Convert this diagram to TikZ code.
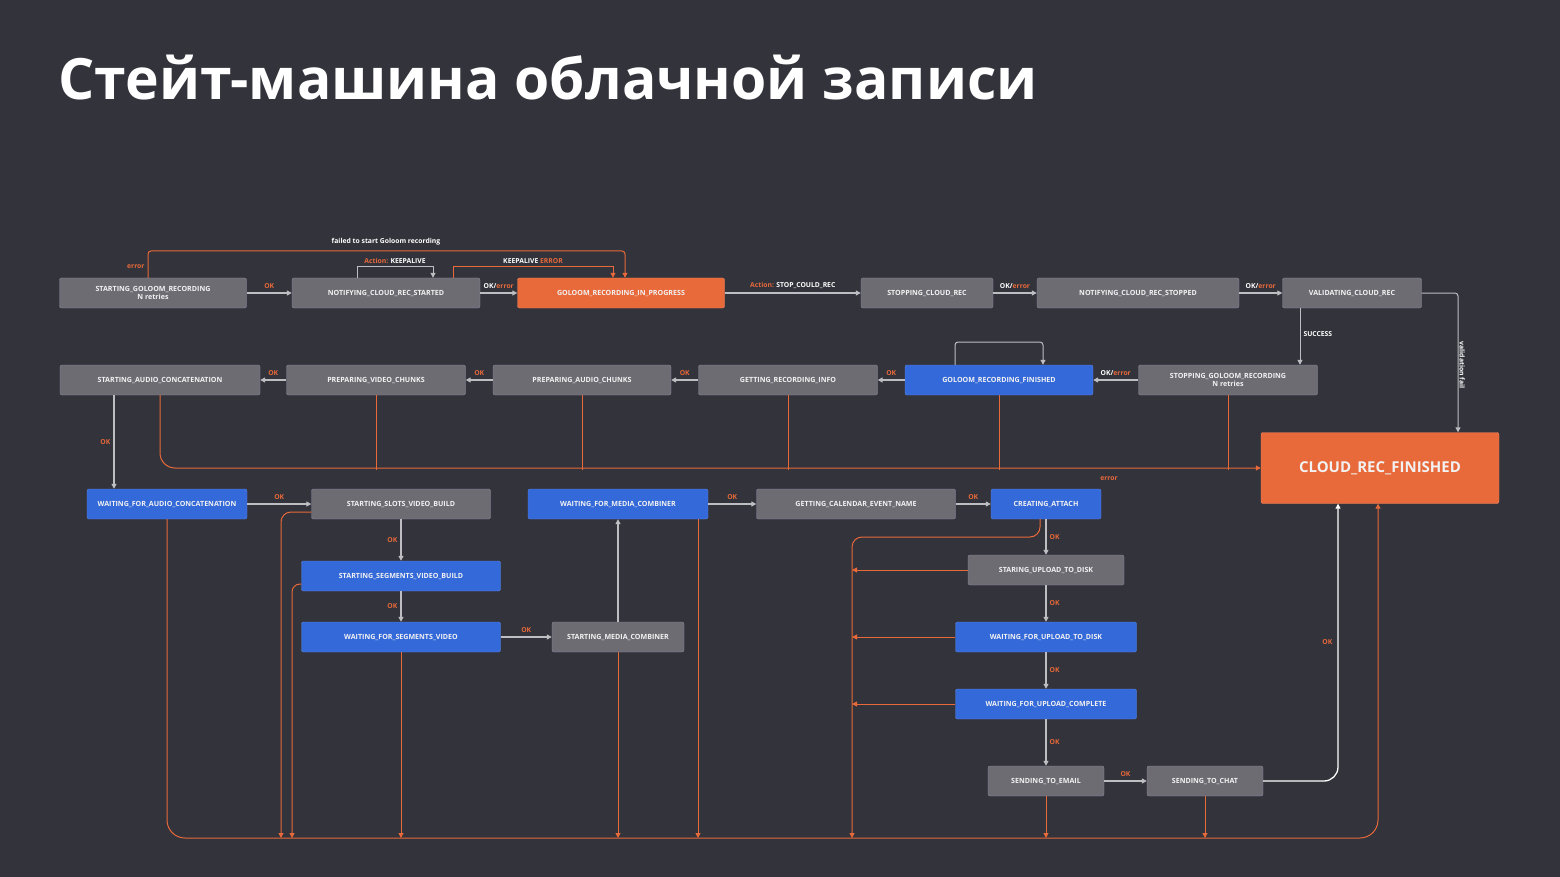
\documentclass[tikz,border=0pt]{standalone}
\usepackage{fontspec}
\setmainfont{Open Sans}
\usetikzlibrary{arrows.meta}
\usetikzlibrary{positioning}
\definecolor{bgc}{HTML}{33333B}
\definecolor{grayc}{HTML}{6E6C73}
\definecolor{grayb}{HTML}{8C89A3}
\definecolor{bluec}{HTML}{3469D9}
\definecolor{orc}{HTML}{E8693A}
\definecolor{linec}{HTML}{BDBDC2}
\newcommand{\er}[1]{\textcolor{orc}{#1}}
\begin{document}
\begin{tikzpicture}[x=1pt,y=-1pt,>={Triangle[length=5pt,width=5pt]},
  box/.style={draw=grayb,fill=grayc,rounded corners=2pt,minimum height=30pt,text=white!90!gray,
    font=\fontsize{7.1}{8.5}\selectfont\bfseries,align=center,inner sep=1pt},
  gbox/.style={box},
  bbox/.style={box,fill=bluec,draw=bluec!80!white},
  obox/.style={box,fill=orc,draw=orc!80!white},
  go/.style={draw=linec,line width=1.3pt,->},
  err/.style={draw=orc,line width=1pt,->},
  errl/.style={draw=orc,line width=0.8pt},
  lab/.style={font=\fontsize{6.8}{8}\selectfont\bfseries,text=white,inner sep=1pt},
  ok/.style={lab,text=orc}]
\fill[bgc] (0,0) rectangle (1560,877);
\node[anchor=west,text=white,font=\fontsize{57}{60}\selectfont\bfseries,inner sep=0pt] (title) at (58,78) {Стейт-машина облачной записи};

% first row
\node[gbox,minimum width=187pt] (sgr) at (153,293) {STARTING\_GOLOOM\_RECORDING\\N retries};
\node[gbox,minimum width=188pt] (ncrs) at (386,293) {NOTIFYING\_CLOUD\_REC\_STARTED};
\node[obox,minimum width=207pt] (grip) at (621,293) {GOLOOM\_RECORDING\_IN\_PROGRESS};
\node[gbox,minimum width=132pt] (scr) at (927,293) {STOPPING\_CLOUD\_REC};
\node[gbox,minimum width=202pt] (ncrstop) at (1138,293) {NOTIFYING\_CLOUD\_REC\_STOPPED};
\node[gbox,minimum width=139pt] (vcr) at (1352,293) {VALIDATING\_CLOUD\_REC};

% second row
\node[gbox,minimum width=200pt] (sac) at (160,380) {STARTING\_AUDIO\_CONCATENATION};
\node[gbox,minimum width=179pt] (pvc) at (376,380) {PREPARING\_VIDEO\_CHUNKS};
\node[gbox,minimum width=178pt] (pac) at (582,380) {PREPARING\_AUDIO\_CHUNKS};
\node[gbox,minimum width=179pt] (gri) at (788,380) {GETTING\_RECORDING\_INFO};
\node[bbox,minimum width=188pt] (grf) at (999,380) {GOLOOM\_RECORDING\_FINISHED};
\node[gbox,minimum width=179pt] (sgr2) at (1228,380) {STOPPING\_GOLOOM\_RECORDING\\N retries};
\node[obox,minimum width=238pt,minimum height=71pt,font=\fontsize{15}{17}\selectfont\bfseries] (crf) at (1380,468) {CLOUD\_REC\_FINISHED};

% third row and below
\node[bbox,minimum width=160pt] (wfac) at (167,504) {WAITING\_FOR\_AUDIO\_CONCATENATION};
\node[gbox,minimum width=179pt] (ssvb) at (401,504) {STARTING\_SLOTS\_VIDEO\_BUILD};
\node[bbox,minimum width=180pt] (wfmc) at (618,504) {WAITING\_FOR\_MEDIA\_COMBINER};
\node[gbox,minimum width=199pt] (gcen) at (856,504) {GETTING\_CALENDAR\_EVENT\_NAME};
\node[bbox,minimum width=110pt] (ca) at (1046,504) {CREATING\_ATTACH};
\node[bbox,minimum width=199pt] (ssegvb) at (401,576) {STARTING\_SEGMENTS\_VIDEO\_BUILD};
\node[bbox,minimum width=199pt] (wfsv) at (401,637) {WAITING\_FOR\_SEGMENTS\_VIDEO};
\node[gbox,minimum width=132pt] (smc) at (618,637) {STARTING\_MEDIA\_COMBINER};
\node[gbox,minimum width=156pt] (sutd) at (1046,570) {STARING\_UPLOAD\_TO\_DISK};
\node[bbox,minimum width=181pt] (wfutd) at (1046,637) {WAITING\_FOR\_UPLOAD\_TO\_DISK};
\node[bbox,minimum width=181pt] (wfuc) at (1046,704) {WAITING\_FOR\_UPLOAD\_COMPLETE};
\node[gbox,minimum width=116pt] (ste) at (1046,781) {SENDING\_TO\_EMAIL};
\node[gbox,minimum width=116pt] (stc) at (1205,781) {SENDING\_TO\_CHAT};

% happy path
\draw[go] (sgr) -- node[ok,above=3pt]{OK} (ncrs);
\draw[go] (ncrs) -- node[lab,above=3pt]{OK/\er{error}} (grip);
\draw[go] (grip) -- node[lab,above=3pt]{\er{Action:} STOP\_COULD\_REC} (scr);
\draw[go] (scr) -- node[lab,above=3pt]{OK/\er{error}} (ncrstop);
\draw[go] (ncrstop) -- node[lab,above=3pt]{OK/\er{error}} (vcr);
\draw[go,line width=1pt] (vcr.south -| 1300,0) -- node[lab,right=2pt,pos=0.45]{SUCCESS} (sgr2.north -| 1300,0);
\draw[go,line width=1pt,rounded corners=3pt] (vcr.east) -| node[lab,rotate=-90,pos=0.77,above=3pt]{validation fail} (crf.north -| 1458,0);
\draw[go] (sgr2) -- node[lab,above=3pt]{OK/\er{error}} (grf);
\draw[go] (grf) -- node[ok,above=3pt]{OK} (gri);
\draw[go] (gri) -- node[ok,above=3pt]{OK} (pac);
\draw[go] (pac) -- node[ok,above=3pt]{OK} (pvc);
\draw[go] (pvc) -- node[ok,above=3pt]{OK} (sac);
\draw[go] (sac.south -| 114,0) -- node[ok,left=2pt]{OK} (wfac.north -| 114,0);
\draw[go] (wfac) -- node[ok,above=3pt]{OK} (ssvb);
\draw[go] (ssvb) -- node[ok,left=2pt]{OK} (ssegvb);
\draw[go] (ssegvb) -- node[ok,left=2pt]{OK} (wfsv);
\draw[go] (wfsv) -- node[ok,above=3pt]{OK} (smc);
\draw[go] (smc) -- (wfmc);
\draw[go] (wfmc) -- node[ok,above=3pt]{OK} (gcen);
\draw[go] (gcen) -- node[ok,above=3pt]{OK} (ca);
\draw[go] (ca) -- node[ok,right=2pt]{OK} (sutd);
\draw[go] (sutd) -- node[ok,right=2pt]{OK} (wfutd);
\draw[go] (wfutd) -- node[ok,right=2pt]{OK} (wfuc);
\draw[go] (wfuc) -- node[ok,right=2pt]{OK} (ste);
\draw[go] (ste) -- node[ok,above=3pt]{OK} (stc);
\draw[go,draw=white,rounded corners=14pt] (stc.east) -| node[ok,pos=0.75,left=4pt]{OK} (crf.south -| 1338,0);

% loops on top
\draw[go,line width=1pt] (ncrs.north -| 357,0) |- (433,267) node[lab,pos=0.75,above=2pt]{\er{Action:} KEEPALIVE} -- (ncrs.north -| 433,0);
\draw[err] (ncrs.north -| 453,0) |- (613,267) node[lab,pos=0.75,above=2pt]{KEEPALIVE \er{ERROR}} -- (grip.north -| 613,0);
\draw[err,rounded corners=3pt] (sgr.north -| 148,0) |- node[ok,pos=0.2,left=2pt]{error} (625,251) -- (grip.north -| 625,0);
\node[lab] (failtxt) at (386,242) {failed to start Goloom recording};
\draw[go,line width=1pt,rounded corners=3pt] (grf.north -| 955,0) |- (1043,342) -- (grf.north -| 1043,0);

% error bus, upper
\draw[err,rounded corners=15pt] (sac.south) |- (crf.west);
\foreach \n in {pvc,pac,gri,grf,sgr2}
  \draw[errl] (\n.south) -- (\n.south |- 0,470);
\node[ok] (errtxt) at (1109,479) {error};

% error bus, lower
\draw[err,rounded corners=18pt] (wfac.south) |- (1378,838) -- (crf.south -| 1378,0);
\draw[err,rounded corners=10pt] (ssvb.west |- 0,512) -| (281,838);
\draw[err,rounded corners=8pt] (ssegvb.west |- 0,584) -| (292,838);
\foreach \n in {wfsv,smc,ste,stc}
  \draw[err] (\n.south) -- (\n.south |- 0,838);
\draw[err] (wfmc.south -| 698,0) -- (698,838);
\draw[err,rounded corners=10pt] (ca.south -| 1040,0) |- (852,537) -- (852,838);
\foreach \n in {sutd,wfutd,wfuc}
  \draw[err] (\n.west) -- (\n.west -| 852,0);
\end{tikzpicture}
\end{document}
